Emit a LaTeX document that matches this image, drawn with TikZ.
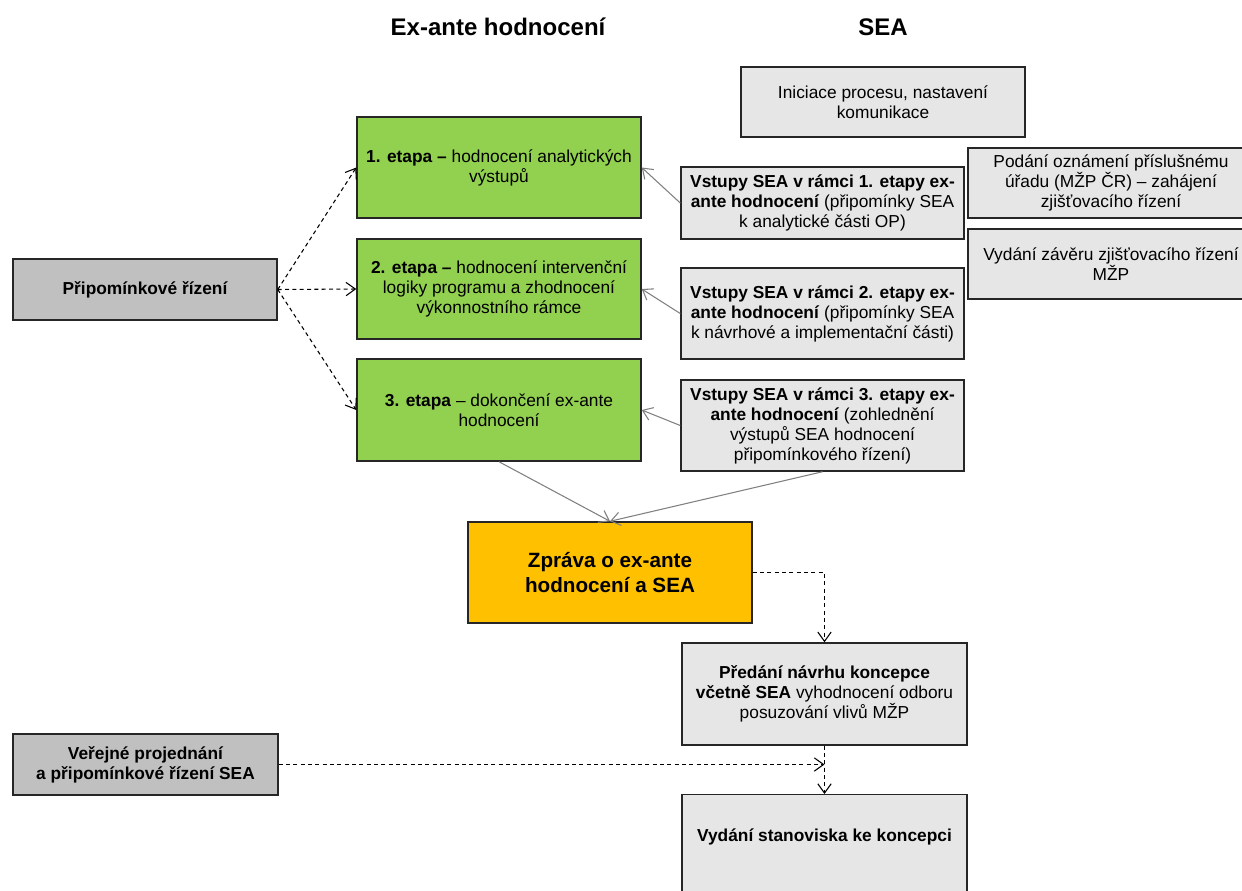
\documentclass[tikz,border=0pt]{standalone}
\usepackage{fontspec}
\setmainfont{Liberation Sans}
\usetikzlibrary{arrows.meta}
\definecolor{boxgreen}{RGB}{146,208,80}
\definecolor{boxorange}{RGB}{255,192,0}
\definecolor{boxlight}{RGB}{230,230,230}
\definecolor{boxdark}{RGB}{192,192,192}
\definecolor{linegray}{RGB}{128,128,128}
\definecolor{edgecol}{RGB}{38,38,38}

\tikzset{
  box/.style={draw=edgecol, line width=1.1pt, align=center, inner sep=2pt, font=\fontsize{13}{15}\selectfont},
  greenbox/.style={box, fill=boxgreen},
  lightbox/.style={box, fill=boxlight},
  darkbox/.style={box, fill=boxdark, font=\fontsize{13}{15}\selectfont\bfseries},
  orangebox/.style={box, fill=boxorange, font=\fontsize{15.5}{18.75}\selectfont\bfseries},
  title/.style={font=\fontsize{18}{21}\selectfont\bfseries},
  feed/.style={-{Straight Barb[length=7pt,width=10pt]}, linegray, line width=0.8pt},
  flow/.style={-{Straight Barb[length=7pt,width=10pt]}, black, line width=0.8pt, dash pattern=on 3pt off 2.5pt}
}

\begin{document}
\begin{tikzpicture}[x=0.75pt, y=-0.75pt]
  \useasboundingbox (0,0) rectangle (1242,890);

  \node[title] (t1) at (498, 27) {Ex-ante hodnocení};
  \node[title] (t2) at (883, 27) {SEA};

  % left column
  \node[darkbox, minimum width=198pt, minimum height=45.75pt] (pripom) at (145, 289.5) {Připomínkové řízení};
  \node[darkbox, minimum width=198.75pt, minimum height=45.75pt] (verejne) at (145.5, 764.5) {Veřejné projednání\\a připomínkové řízení SEA};

  % ex-ante stages
  \node[greenbox, minimum width=213pt, minimum height=75.75pt] (etapa1) at (499, 167.5) {\textbf{1. etapa –} hodnocení analytických\\výstupů};
  \node[greenbox, minimum width=213pt, minimum height=75pt] (etapa2) at (499, 289) {\textbf{2. etapa –} hodnocení intervenční\\logiky programu a zhodnocení\\výkonnostního rámce};
  \node[greenbox, minimum width=213pt, minimum height=76.5pt] (etapa3) at (499, 410) {\textbf{3. etapa} – dokončení ex-ante\\hodnocení};

  % SEA column
  \node[lightbox, minimum width=213pt, minimum height=52.5pt] (iniciace) at (883, 102) {Iniciace procesu, nastavení\\komunikace};
  \node[lightbox, minimum width=212.25pt, minimum height=54pt] (vstupy1) at (822.5, 203) {\textbf{Vstupy SEA v rámci 1. etapy ex-}\\\textbf{ante hodnocení} (připomínky SEA\\k analytické části OP)};
  \node[lightbox, minimum width=212.25pt, minimum height=68.25pt] (vstupy2) at (822.5, 313.5) {\textbf{Vstupy SEA v rámci 2. etapy ex-}\\\textbf{ante hodnocení} (připomínky SEA\\k návrhové a implementační části)};
  \node[lightbox, minimum width=212.25pt, minimum height=68.25pt] (vstupy3) at (822.5, 425.5) {\textbf{Vstupy SEA v rámci 3. etapy ex-}\\\textbf{ante hodnocení} (zohlednění\\výstupů SEA hodnocení\\připomínkového řízení)};
  \node[lightbox, minimum width=214.5pt, minimum height=52.5pt] (podani) at (1111, 183) {Podání oznámení příslušnému\\úřadu (MŽP ČR) – zahájení\\zjišťovacího řízení};
  \node[lightbox, minimum width=214.5pt, minimum height=52.5pt] (zaver) at (1111, 264) {Vydání závěru zjišťovacího řízení\\MŽP};

  % report and final steps
  \node[orangebox, minimum width=213pt, minimum height=75.75pt] (zprava) at (610, 572.5) {Zpráva o ex-ante\\hodnocení a SEA};
  \node[lightbox, minimum width=213.75pt, minimum height=76.5pt] (predani) at (824.5, 694) {\textbf{Předání návrhu koncepce}\\\textbf{včetně SEA} vyhodnocení odboru\\posuzování vlivů MŽP};
  \node[lightbox, font=\fontsize{13}{15}\selectfont\bfseries, anchor=north, minimum width=213.75pt, inner ysep=0pt, text height=35pt, text depth=45pt] (vydani) at (824.5, 794) {Vydání stanoviska ke koncepci};

  \draw[flow] (pripom.east) -- (etapa1.west);
  \draw[flow] (pripom.east) -- (etapa2.west);
  \draw[flow] (pripom.east) -- (etapa3.west);

  \draw[feed] (vstupy1.west) -- (etapa1.east);
  \draw[feed] (vstupy2.west) -- (etapa2.east);
  \draw[feed] (vstupy3.west) -- (etapa3.east);
  \draw[feed] (etapa3.south) -- (zprava.north);
  \draw[feed] (vstupy3.south) -- (zprava.north);

  \draw[flow] (zprava.east) -| (predani.north);
  \draw[flow] (predani.south) -- (vydani.north);
  \draw[flow] (verejne.east) -- (verejne.east -| predani.south);
\end{tikzpicture}
\end{document}
